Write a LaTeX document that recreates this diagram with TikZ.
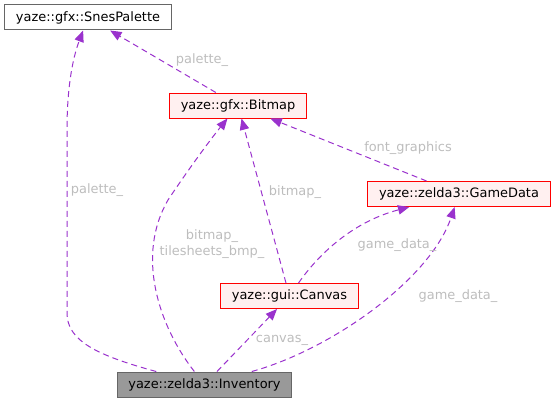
\documentclass[tikz,border=0pt]{standalone}
\usepackage{fontspec}
\setmainfont{DejaVu Sans}
\usetikzlibrary{arrows.meta}

\definecolor{edgepurple}{HTML}{9A32CD}
\definecolor{labelgray}{HTML}{BDBDBD}
\definecolor{boxfill}{HTML}{FFF0F0}

\begin{document}
\begin{tikzpicture}[
    x=0.75pt, y=-0.75pt,
    classbox/.style={draw=red, fill=boxfill, line width=0.75pt, inner xsep=8.5pt,
      inner ysep=0pt, minimum height=18.75pt, font=\fontsize{9.7}{11}\selectfont},
    plainbox/.style={classbox, draw=black!60, fill=white},
    focusbox/.style={classbox, draw=black!60, fill=black!40},
    edgelabel/.style={text=labelgray, inner sep=0pt, align=center,
      font=\fontsize{9.7}{11.5}\selectfont},
    arrow/.style={-{Triangle[length=8.5pt,width=7pt]}, edgepurple, line width=0.75pt,
      dash pattern=on 4.5pt off 3pt}
  ]
    \useasboundingbox (0,0) rectangle (556,403);
    \node[plainbox] (palette) at (88,17.5) {yaze::gfx::SnesPalette};
    \node[classbox] (bitmap) at (238,105.5) {yaze::gfx::Bitmap};
    \node[classbox] (gamedata) at (459,194) {yaze::zelda3::GameData};
    \node[classbox] (canvas) at (289.5,296) {yaze::gui::Canvas};
    \node[focusbox] (inventory) at (204.5,384.5) {yaze::zelda3::Inventory};
    % members
    \draw[arrow] (inventory) .. controls (95,355) and (67,340) .. (67,313)
      -- (67,130) .. controls (67,90) and (72,60) .. (palette);
    \draw[arrow] (bitmap) -- (palette);
    \draw[arrow] (inventory) .. controls (158,325) and (136,255) .. (168,200)
      .. controls (188,170) and (210,140) .. (bitmap);
    \draw[arrow] (canvas) -- (bitmap);
    \draw[arrow] (gamedata) -- (bitmap);
    \draw[arrow] (canvas) .. controls (318,255) and (352,222) .. (gamedata);
    \draw[arrow] (inventory) .. controls (330,350) and (430,280) .. (gamedata);
    \draw[arrow] (inventory) -- (canvas);
    % labels
    \node[edgelabel] (lblpalinv) at (97,190) {palette\_};
    \node[edgelabel] (lblpalbmp) at (202,60) {palette\_};
    \node[edgelabel] (lblbmpinv) at (212,244) {bitmap\_\\tilesheets\_bmp\_};
    \node[edgelabel] (lblbmpcnv) at (295,192) {bitmap\_};
    \node[edgelabel] (lblfont) at (408,148) {font\_graphics};
    \node[edgelabel] (lblgdcnv) at (397,245) {game\_data\_};
    \node[edgelabel] (lblgdinv) at (458,296) {game\_data\_};
    \node[edgelabel] (lblcanvas) at (282,340) {canvas\_};
  \end{tikzpicture}
\end{document}
